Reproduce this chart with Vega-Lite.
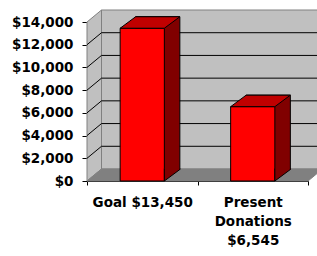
{
  "$schema": "https://vega.github.io/schema/vega-lite/v6.json",
  "autosize": {"type": "none"},
  "padding": {"left": 87, "top": 22, "right": 9, "bottom": 75},
  "width": 221,
  "height": 159,
  "background": "white",
  "resolve": {"axis": {"x": "independent", "y": "independent"}},
  "config": {
    "view": {"stroke": null},
    "axis": {
      "labelFont": "DejaVu Sans",
      "labelFontWeight": "bold",
      "labelFontSize": 13.5,
      "labelColor": "black",
      "domainColor": "black",
      "tickColor": "black",
      "labelOverlap": false,
      "grid": false,
      "title": null
    }
  },
  "datasets": {
    "bars": [
      {"cat": "Goal $13,450", "amount": 13450},
      {"cat": "Present Donations $6,545", "amount": 6545}
    ],
    "grid": [
      {"v": 2000}, {"v": 4000}, {"v": 6000}, {"v": 8000}, {"v": 10000}, {"v": 12000}
    ],
    "one": [{"k": 1}]
  },
  "layer": [
    {
      "data": {"name": "one"},
      "mark": {"type": "rect", "fill": "#C0C0C0", "stroke": "#808080", "strokeWidth": 1, "xOffset": 14.5, "x2Offset": 14.5, "yOffset": -12, "y2Offset": -12},
      "encoding": {
        "x": {"value": 0},
        "x2": {"value": "width"},
        "y": {
          "datum": 14000, "type": "quantitative",
          "scale": {"domain": [0, 14000], "nice": false, "zero": true},
          "axis": null
        },
        "y2": {"datum": 0}
      }
    },
    {
      "data": {"name": "one"},
      "mark": {"type": "point", "shape": "M0,0L0.145,-0.12L0.145,1.47L0,1.59Z", "size": 40000, "filled": true, "opacity": 1, "fill": "#C0C0C0", "stroke": "#808080", "strokeWidth": 1},
      "encoding": {
        "x": {"value": 0},
        "y": {"datum": 14000, "type": "quantitative", "axis": null}
      }
    },
    {
      "data": {"name": "one"},
      "mark": {"type": "point", "shape": "M0,0L2.21,0L2.355,-0.12L0.145,-0.12Z", "size": 40000, "filled": true, "opacity": 1, "fill": "#808080", "stroke": "#808080", "strokeWidth": 1},
      "encoding": {
        "x": {"value": 0},
        "y": {"datum": 0, "type": "quantitative", "axis": null}
      }
    },
    {
      "data": {"name": "grid"},
      "mark": {"type": "point", "shape": "M0,0L0.145,-0.12L2.6,-0.12", "size": 40000, "filled": false, "opacity": 1, "stroke": "black", "strokeWidth": 1},
      "encoding": {
        "x": {"value": 0},
        "y": {"field": "v", "type": "quantitative", "axis": null}
      }
    },
    {
      "data": {"name": "bars"},
      "mark": {"type": "bar", "width": {"band": 0.4}, "fill": "#800000", "stroke": "black", "strokeWidth": 1, "xOffset": 15.5, "yOffset": -11.5, "y2Offset": -11.5},
      "encoding": {
        "x": {
          "field": "cat", "type": "nominal", "sort": null,
          "scale": {"paddingInner": 0, "paddingOuter": 0},
          "axis": null
        },
        "y": {"field": "amount", "type": "quantitative", "axis": null}
      }
    },
    {
      "data": {"name": "bars"},
      "mark": {"type": "bar", "width": {"band": 0.4}, "fill": "#FF0000", "stroke": "black", "strokeWidth": 1},
      "encoding": {
        "x": {
          "field": "cat", "type": "nominal", "sort": null,
          "axis": {
            "labelAngle": 0,
            "tickBand": "extent",
            "tickSize": 4,
            "labelPadding": 10,
            "labelLineHeight": 19,
            "labelLimit": 0,
            "labelExpr": "datum.value == 'Goal $13,450' ? datum.label : split(datum.label, ' ')"
          }
        },
        "y": {
          "field": "amount", "type": "quantitative",
          "axis": {
            "values": [0, 2000, 4000, 6000, 8000, 10000, 12000, 14000],
            "format": "$,.0f",
            "tickSize": 5,
            "labelPadding": 9,
            "labelOverlap": false
          }
        }
      }
    },
    {
      "data": {"name": "bars"},
      "mark": {"type": "point", "shape": "M-0.221,0L0.221,0L0.376,-0.115L-0.066,-0.115Z", "size": 40000, "filled": true, "opacity": 1, "fill": "#C00000", "stroke": "black", "strokeWidth": 1},
      "encoding": {
        "x": {"field": "cat", "type": "nominal", "sort": null, "axis": null},
        "y": {"field": "amount", "type": "quantitative", "axis": null}
      }
    },
    {
      "data": {"name": "bars"},
      "mark": {"type": "point", "shape": "M0.221,-0.125L0.221,0L0.376,-0.115L0.376,-0.125", "size": 40000, "filled": true, "opacity": 1, "fill": "#800000", "stroke": "black", "strokeWidth": 1},
      "encoding": {
        "x": {"field": "cat", "type": "nominal", "sort": null, "axis": null},
        "y": {"datum": 0, "type": "quantitative", "axis": null}
      }
    }
  ]
}
